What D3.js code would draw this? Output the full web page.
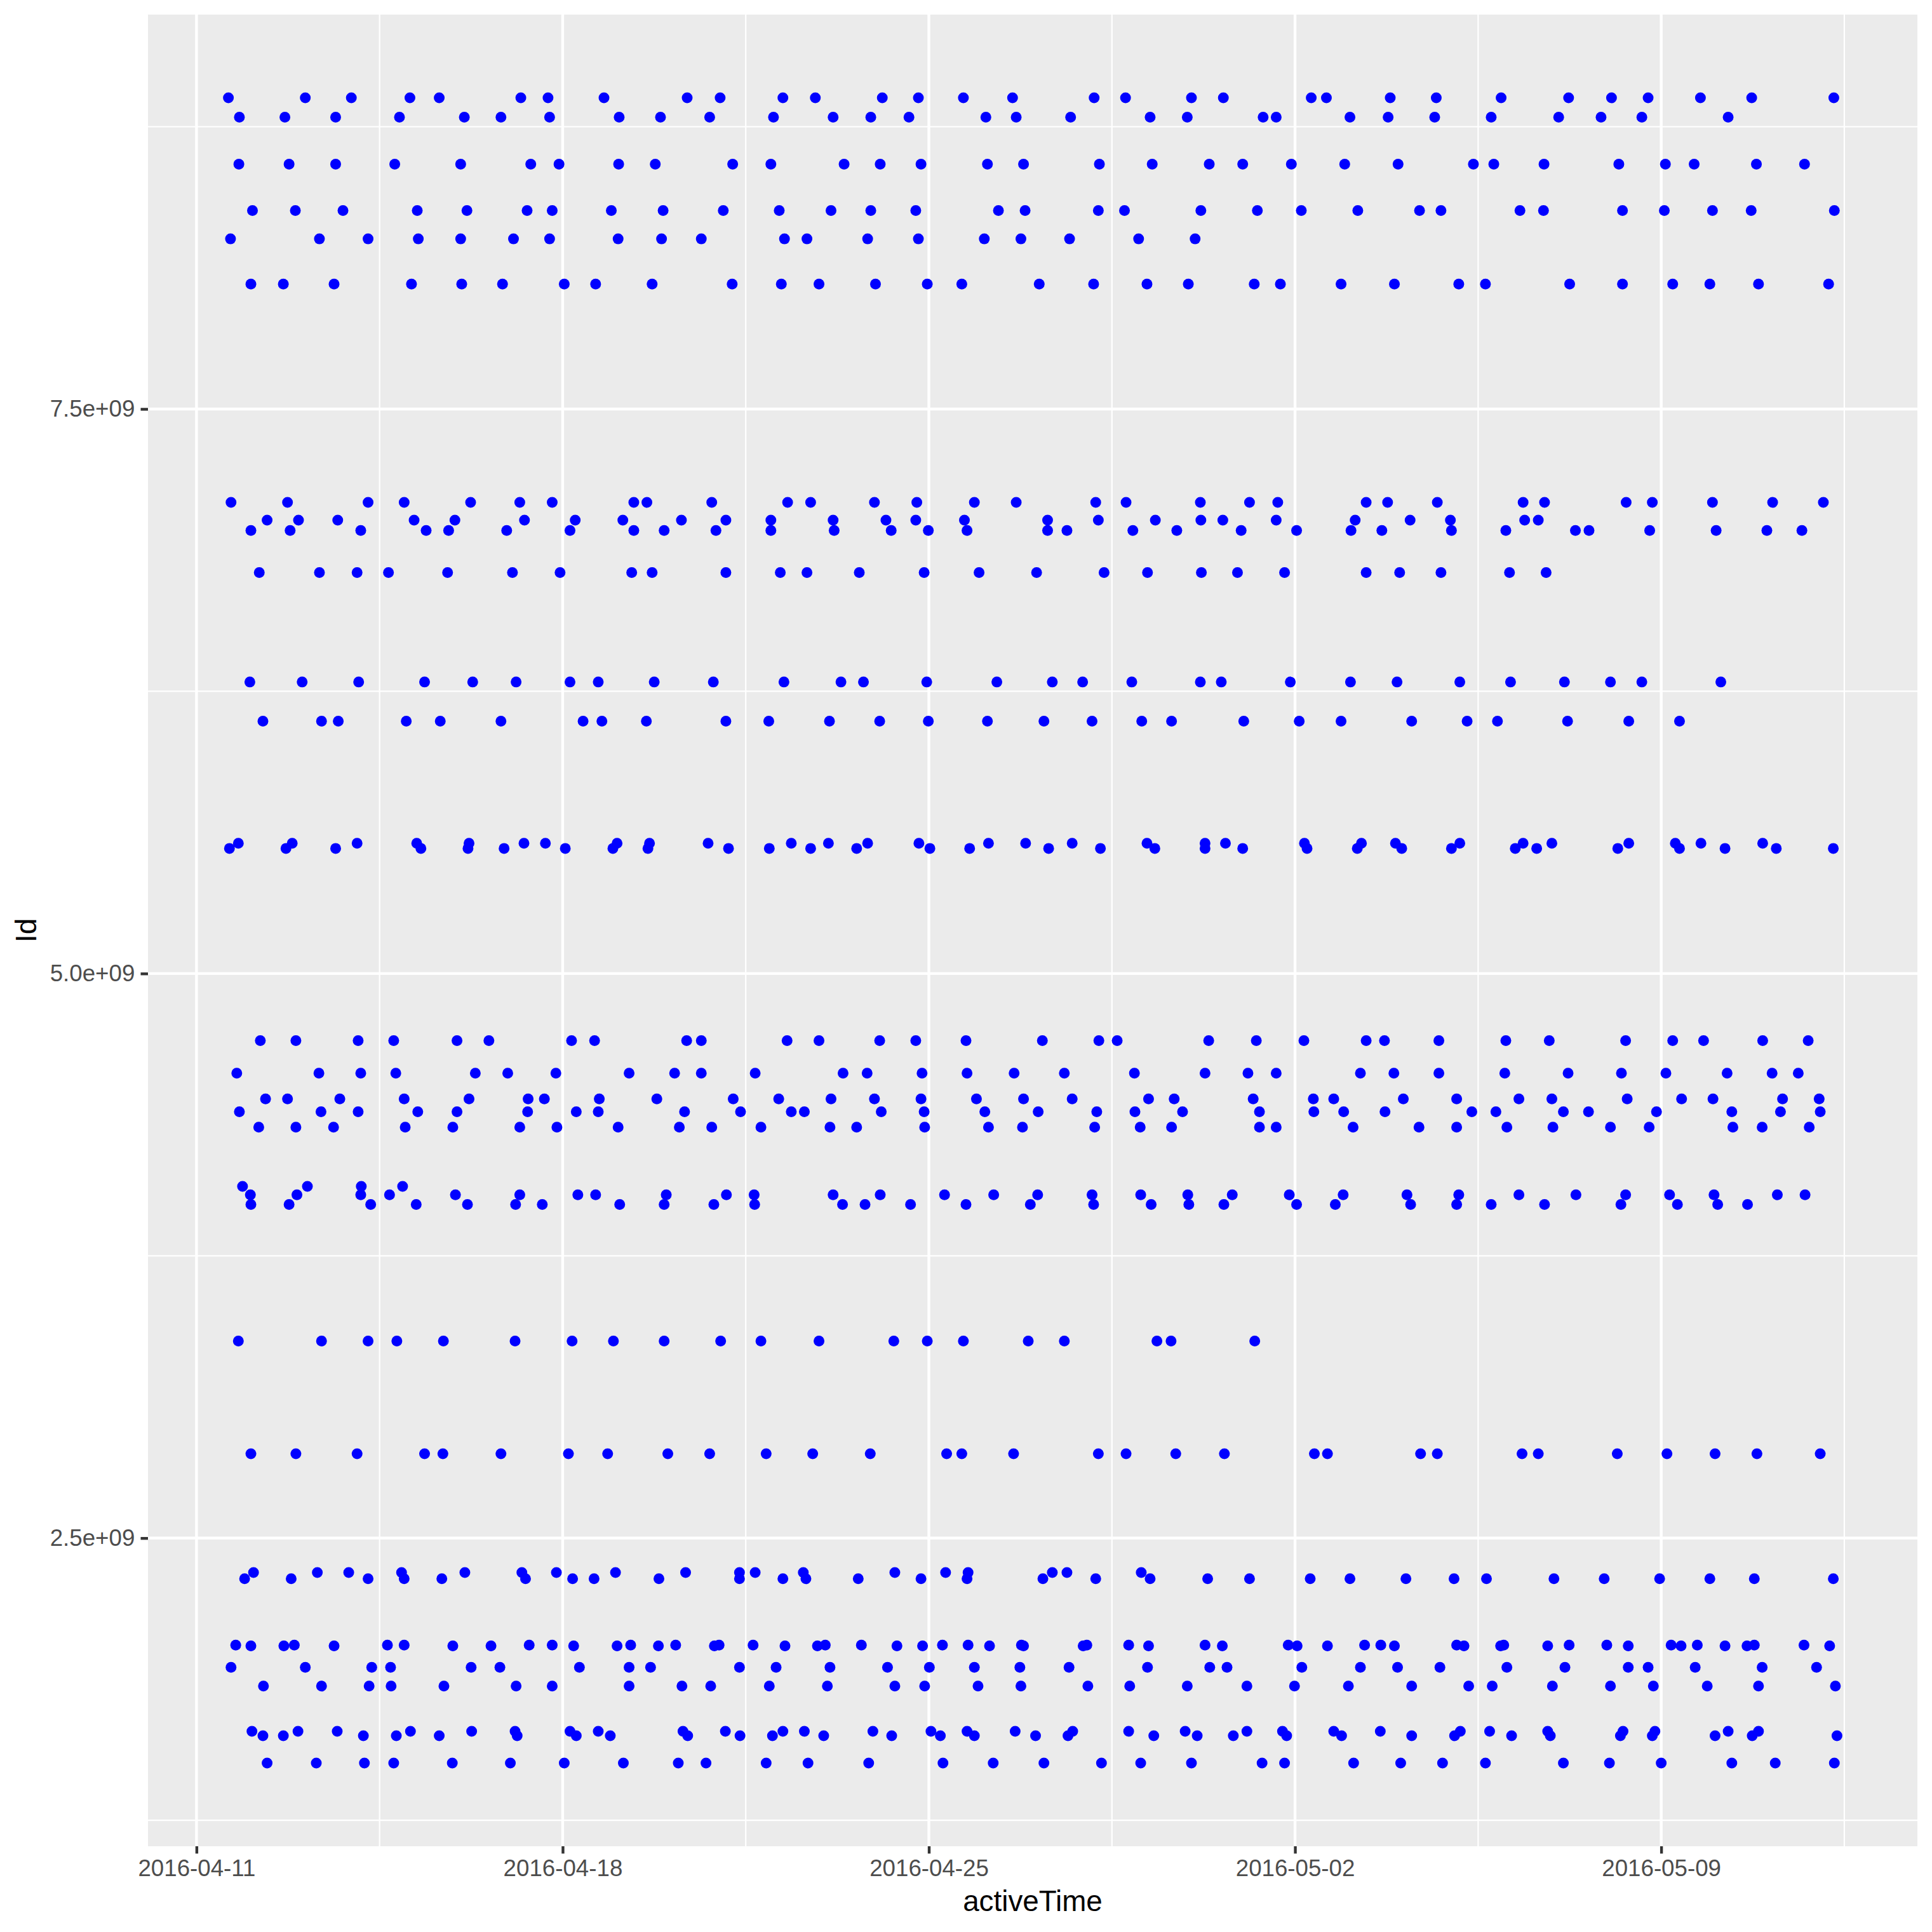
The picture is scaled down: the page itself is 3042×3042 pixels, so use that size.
<!DOCTYPE html>
<html><head><meta charset="utf-8">
<script src="https://cdn.jsdelivr.net/npm/d3@7"></script>
<style>html,body{margin:0;padding:0;background:#fff}svg{display:block}</style>
</head><body>
<script>
// ---- data: Id and activeTime (days after 2016-04-11 00:00 UTC) ----
const startDate = "2016-04-11";
const ids = [8877689391, 8792009665, 8583815059, 8378563200, 8253242879, 8053475328,
  7086361926, 7007744171, 6962181067, 6775888955, 6290855005, 6117666160,
  5577150313, 5553957443, 4702921684, 4558609924, 4445114986, 4388161847, 4319703577,
  4057192912, 4020332650, 3977333714, 3372868164, 2873212765, 2347167796, 2320127002,
  2026352035, 2022484408, 1927972279, 1844505072, 1644430081, 1624580081, 1503960366];
const activeDays = [
 [0.61,2.08,2.96,4.08,4.64,6.20,6.72,7.79,9.38,10.01,11.21,11.83,13.11,13.80,14.66,15.60,17.16,17.76,19.02,19.63,21.31,21.60,22.82,23.70,24.94,26.23,27.05,27.75,28.75,29.73,31.30],
 [0.82,1.69,2.66,3.88,5.12,5.82,6.75,8.08,8.87,9.81,11.03,12.17,12.89,13.62,15.09,15.67,16.71,18.23,18.94,20.39,20.64,22.05,22.78,23.67,24.75,26.04,26.85,27.63,29.28],
 [0.81,1.77,2.66,3.79,5.05,6.39,6.93,8.07,8.77,10.25,10.98,12.38,13.07,13.85,15.12,15.81,17.26,18.27,19.36,20.00,20.93,21.95,22.97,24.41,24.80,25.76,27.19,28.08,28.63,29.82,30.74],
 [1.07,1.89,2.80,4.22,5.17,6.32,6.80,7.93,8.92,10.07,11.14,12.13,12.89,13.75,15.33,15.84,17.24,17.74,19.20,20.28,21.12,22.20,23.38,23.79,25.30,25.75,27.26,28.06,28.98,29.72,31.31],
 [0.65,2.35,3.28,4.24,5.05,6.06,6.75,8.06,8.89,9.65,11.24,11.67,12.83,13.80,15.06,15.76,16.69,18.01,19.09],
 [1.04,1.66,2.63,4.11,5.07,5.85,7.03,7.63,8.71,10.24,11.18,11.90,12.98,13.97,14.63,16.11,17.15,18.17,18.96,20.22,20.72,21.88,22.90,24.13,24.64,26.25,27.26,28.22,28.93,29.86,31.20],
 [0.66,1.74,3.28,3.97,5.24,6.18,6.80,8.36,8.61,9.85,11.30,11.74,12.96,13.77,14.87,15.67,17.19,17.77,19.19,20.13,20.67,22.36,22.77,23.72,25.36,25.77,27.33,27.83,28.98,30.13,31.10],
 [1.35,1.95,2.70,4.16,4.94,6.27,7.24,8.15,9.27,10.12,10.98,12.17,13.18,13.75,14.68,16.27,17.24,18.33,19.20,19.62,20.64,22.15,23.20,23.97,25.39,25.65],
 [1.04,1.79,3.14,4.39,4.82,5.93,7.14,8.36,8.94,9.93,10.98,12.19,13.28,13.99,14.73,16.27,16.64,17.90,18.74,19.97,21.03,22.07,22.66,23.99,25.03,26.36,26.62,27.78,29.05,30.02,30.69],
 [1.20,2.35,3.07,3.67,4.80,6.04,6.95,8.32,8.71,10.12,11.16,11.67,12.67,13.91,14.96,16.06,17.35,18.18,19.21,19.90,20.80,22.36,23.00,23.79,25.10,25.80],
 [1.02,2.02,3.10,4.36,5.28,6.11,7.14,7.68,8.75,9.88,11.23,12.32,12.75,13.96,15.30,16.36,16.94,17.88,19.19,19.59,20.91,22.06,22.95,24.15,25.12,26.15,27.03,27.63,29.14],
 [1.27,2.39,2.71,4.01,4.66,5.82,7.39,7.75,8.60,10.12,10.94,12.10,13.06,13.99,15.12,16.20,17.12,18.07,18.64,20.02,21.08,21.88,23.23,24.29,24.87,26.21,27.38,28.35],
 [0.80,1.83,3.07,4.21,5.21,6.26,6.67,8.04,8.66,9.78,11.37,12.08,12.83,13.81,15.14,15.85,16.74,18.17,19.28,19.67,21.18,22.27,22.92,24.15,25.36,25.91,27.38,28.27,28.76,29.94],
 [0.63,1.71,2.66,4.29,5.19,5.88,7.05,7.96,8.63,10.17,10.95,11.74,12.62,14.02,14.78,16.29,17.28,18.32,19.28,20.00,21.23,22.19,23.04,23.99,25.21,25.62,27.17,28.35,29.22,30.20,31.29],
 [1.22,1.90,3.09,3.77,4.98,5.59,7.17,7.61,9.37,9.65,11.29,11.90,13.06,13.75,14.71,16.17,17.25,17.60,19.35,20.26,21.17,22.36,22.71,23.75,25.03,25.86,27.32,28.22,28.81,29.94,30.81],
 [0.77,2.34,3.14,3.81,5.33,5.95,6.87,8.27,9.14,9.65,10.68,12.36,12.82,13.87,14.73,15.63,16.59,17.93,19.28,20.10,20.64,22.25,22.89,23.75,25.01,26.22,27.24,28.09,29.26,30.12,30.62],
 [1.32,1.74,2.74,3.97,5.21,6.34,6.65,7.70,8.80,10.26,11.13,12.13,12.96,13.85,14.91,15.81,16.74,18.20,18.69,20.20,21.35,21.74,23.07,24.09,25.28,25.91,27.35,28.39,28.99,30.32,31.02],
 [0.82,2.38,3.09,4.23,4.98,6.33,7.26,7.68,9.33,10.40,11.37,11.62,13.09,13.91,15.07,16.09,17.21,17.94,18.85,20.32,21.36,21.93,22.72,24.38,24.84,26.13,26.61,27.91,29.35,30.28,31.04],
 [1.19,1.90,2.62,3.99,4.90,6.18,6.89,8.06,9.23,9.85,10.79,12.11,12.62,13.92,15.14,15.79,17.17,18.04,18.64,20.32,20.64,22.11,23.37,24.09,25.05,25.93,27.03,27.77,29.37,29.93,30.83],
 [0.88,2.12,3.15,3.94],
 [1.03,1.92,3.14,3.69,4.95,6.18,7.29,7.63,8.98,10.13,10.66,12.17,13.07,14.30,15.24,16.08,17.12,18.05,18.95,19.80,20.89,21.92,23.14,24.13,25.28,26.37,27.32,28.16,29.01,30.22,30.75],
 [1.04,1.77,3.33,4.20,5.18,6.10,6.61,8.09,8.94,9.89,10.67,12.35,12.78,13.65,14.71,15.94,17.15,18.25,18.97,19.64,21.03,21.77,23.21,24.09,24.75,25.77,27.23,28.31,29.08,29.65],
 [0.80,2.39,3.28,3.83,4.72,6.09,7.18,7.97,8.94,10.02,10.79,11.90,13.33,13.97,14.66,15.90,16.59,18.36,18.63,20.23],
 [1.04,1.90,3.07,4.36,4.71,5.82,7.11,7.86,9.01,9.81,10.89,11.78,12.88,14.34,14.63,15.62,17.24,17.77,18.72,19.65,21.37,21.62,23.40,23.72,25.34,25.65,27.16,28.11,29.03,29.83,31.04],
 [1.09,2.31,2.91,3.92,5.13,6.22,6.88,8.01,9.35,10.38,10.68,11.60,13.35,14.32,14.75,16.36,16.64,18.06],
 [0.92,1.81,3.28,3.97,4.69,6.29,7.19,7.60,8.84,10.38,11.21,11.65,12.65,13.85,14.73,16.18,17.19,18.23,19.33,20.13,21.29,22.05,23.12,24.04,24.66,25.95,26.91,27.97,28.93,29.78,31.29],
 [0.75,1.87,3.65,3.97,6.36,6.80,8.30,9.16,9.99,10.64,12.02,12.71,14.26,14.75,15.77,17.02,17.82,19.28,20.87,22.33,22.64,24.09,24.99,26.24,26.96,28.19,28.69,29.78,30.73],
 [1.04,1.67,2.63,4.90,5.63,7.21,8.04,8.83,9.90,11.25,11.87,13.39,13.88,15.16,15.81,16.95,18.20,19.61,21.04,21.62,22.90,24.23,24.93,25.83,27.37,28.38,29.22,29.64,31.22],
 [0.66,2.08,3.35,3.71,5.25,5.80,7.32,8.27,8.68,10.38,11.08,12.11,13.21,14.01,14.87,15.74,16.68,18.18,19.37,19.70,21.13,22.25,22.96,23.77,25.05,26.16,27.37,27.75,28.65,29.93,30.97],
 [1.28,2.39,3.30,3.72,4.73,6.11,6.80,8.27,9.28,9.83,10.95,12.06,13.35,13.92,14.94,15.76,17.04,17.84,18.94,20.08,20.99,22.02,23.23,24.32,24.77,25.92,27.03,27.85,28.88,29.86,31.33],
 [1.06,1.94,2.69,4.09,5.26,6.09,7.14,7.68,9.30,10.11,11.21,11.62,12.93,14.04,14.73,15.65,16.75,17.82,18.90,20.08,20.76,21.74,22.63,24.16,24.72,25.83,27.27,27.88,29.28,29.86],
 [1.27,1.66,3.19,3.82,4.64,6.13,7.26,7.91,9.39,10.39,11.01,11.99,13.29,14.22,14.87,16.04,16.66,18.30,19.13,19.82,20.84,21.89,23.23,24.05,25.14,25.88,27.22,27.83,29.03,29.74,31.36],
 [1.35,2.29,3.21,3.77,4.89,6.00,7.03,8.16,9.21,9.74,10.89,11.69,12.85,14.27,15.23,16.20,17.30,18.05,19.02,20.37,20.80,22.12,23.02,23.82,24.64,26.13,27.01,28.00,29.35,30.18,31.31]
];
const xTickDates = ["2016-04-11","2016-04-18","2016-04-25","2016-05-02","2016-05-09"];
const xMinorDates = ["2016-04-14T12:00","2016-04-21T12:00","2016-04-28T12:00","2016-05-05T12:00","2016-05-12T12:00"];
const yTicks = [2.5e9, 5.0e9, 7.5e9];
const yTickLabels = ["2.5e+09", "5.0e+09", "7.5e+09"];
const yMinor = [1.25e9, 3.75e9, 6.25e9, 8.75e9];
const xTitle = "activeTime", yTitle = "Id";

// ---- layout ----
const W = 3042, H = 3042;
const P = {left: 233, right: 3019, top: 23, bottom: 2907};
const font = "'Liberation Sans', Arial, Helvetica, sans-serif";

const parseDay = d3.utcParse("%Y-%m-%d");
const parseDT = d3.utcParse("%Y-%m-%dT%H:%M");
const t0 = parseDay(startDate);
const points = [];
ids.forEach((id, i) => activeDays[i].forEach(d => points.push({id, t: new Date(+t0 + d * 864e5)})));

const tExt = d3.extent(points, p => +p.t);
const tPad = (tExt[1] - tExt[0]) * 0.05;
const x = d3.scaleUtc().domain([tExt[0] - tPad, tExt[1] + tPad]).range([P.left, P.right]);
const yExt = d3.extent(ids);
const yPad = (yExt[1] - yExt[0]) * 0.05;
const y = d3.scaleLinear().domain([yExt[0] - yPad, yExt[1] + yPad]).range([P.bottom, P.top]);

const svg = d3.select("body").append("svg").attr("width", W).attr("height", H)
  .style("font-family", font);
svg.append("rect").attr("width", W).attr("height", H).attr("fill", "#fff");
svg.append("rect").attr("x", P.left).attr("y", P.top)
  .attr("width", P.right - P.left).attr("height", P.bottom - P.top).attr("fill", "#EBEBEB");

const grid = svg.append("g");
grid.selectAll(".vminor").data(xMinorDates.map(parseDT)).join("line")
  .attr("x1", d => x(d)).attr("x2", d => x(d)).attr("y1", P.top).attr("y2", P.bottom)
  .attr("stroke", "#fff").attr("stroke-width", 2.2);
grid.selectAll(".hminor").data(yMinor).join("line")
  .attr("y1", d => y(d)).attr("y2", d => y(d)).attr("x1", P.left).attr("x2", P.right)
  .attr("stroke", "#fff").attr("stroke-width", 2.2);
grid.selectAll(".vmajor").data(xTickDates.map(parseDay)).join("line")
  .attr("x1", d => x(d)).attr("x2", d => x(d)).attr("y1", P.top).attr("y2", P.bottom)
  .attr("stroke", "#fff").attr("stroke-width", 4.4);
grid.selectAll(".hmajor").data(yTicks).join("line")
  .attr("y1", d => y(d)).attr("y2", d => y(d)).attr("x1", P.left).attr("x2", P.right)
  .attr("stroke", "#fff").attr("stroke-width", 4.4);

svg.append("g").selectAll("circle").data(points).join("circle")
  .attr("cx", d => x(d.t)).attr("cy", d => y(d.id)).attr("r", 8.5).attr("fill", "#0000FF");

// axes
const xAxis = svg.append("g").attr("transform", `translate(0,${P.bottom})`)
  .call(d3.axisBottom(x).tickValues(xTickDates.map(parseDay))
    .tickFormat(d3.utcFormat("%Y-%m-%d")).tickSize(11.5).tickPadding(9.2));
const yAxis = svg.append("g").attr("transform", `translate(${P.left},0)`)
  .call(d3.axisLeft(y).tickValues(yTicks).tickFormat((d, i) => yTickLabels[i])
    .tickSize(11.5).tickPadding(9.2));
[xAxis, yAxis].forEach(g => {
  g.select(".domain").remove();
  g.selectAll(".tick line").attr("stroke", "#333333").attr("stroke-width", 4.4);
  g.selectAll(".tick text").attr("fill", "#4D4D4D").style("font-size", "36.7px")
    .style("font-family", font);
});

svg.append("text").attr("x", (P.left + P.right) / 2).attr("y", 3009)
  .attr("text-anchor", "middle").style("font-size", "45.8px").attr("fill", "#000").text(xTitle);
svg.append("text").attr("transform", `translate(57,${(P.top + P.bottom) / 2}) rotate(-90)`)
  .attr("text-anchor", "middle").style("font-size", "45.8px").attr("fill", "#000").text(yTitle);
</script>
</body></html>
